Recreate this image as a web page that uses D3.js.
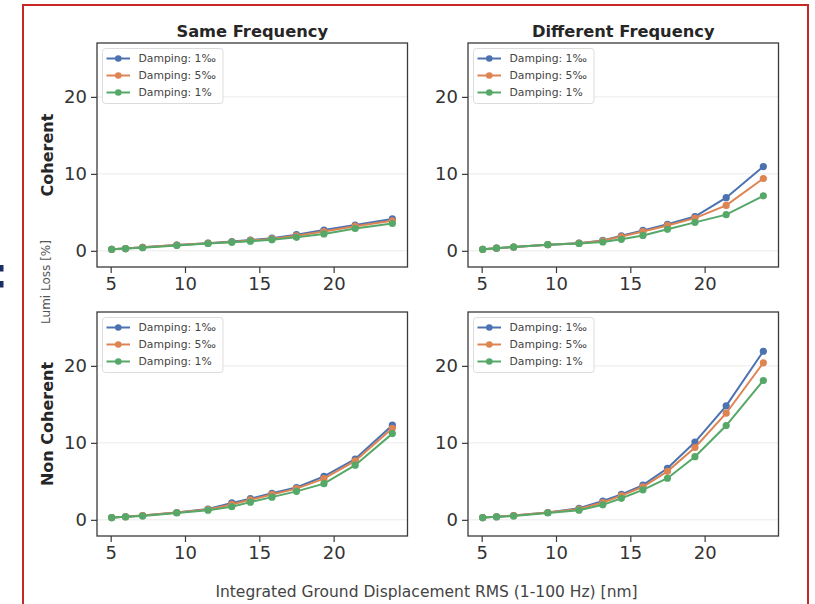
<!DOCTYPE html>
<html>
<head>
<meta charset="utf-8">
<script src="https://cdn.jsdelivr.net/npm/d3@7"></script>
<style>
  html, body { margin: 0; padding: 0; background: #fff; }
  svg { display: block; }
  text { font-family: "DejaVu Sans", sans-serif; }
</style>
</head>
<body>
<svg id="chart" width="815" height="604"></svg>
<script>
// ---------- data ----------
const xValues = [5.07, 6.0, 7.15, 9.45, 11.55, 13.15, 14.4, 15.85, 17.5, 19.35, 21.45, 23.95];

const seriesNames = ["Damping: 1‰", "Damping: 5‰", "Damping: 1%"];
const seriesColors = ["#4c72b0", "#dd8452", "#55a868"];

const colTitles = ["Same Frequency", "Different Frequency"];
const rowTitles = ["Coherent", "Non Coherent"];

const cohSame_1pm = [0.2, 0.3, 0.45, 0.75, 1.0, 1.2, 1.4, 1.65, 2.1, 2.7, 3.35, 4.15];
const cohSame_5pm = [0.2, 0.3, 0.45, 0.75, 1.0, 1.15, 1.35, 1.55, 1.95, 2.5, 3.2, 3.9];
const cohSame_1pc = [0.2, 0.3, 0.4, 0.7, 0.95, 1.1, 1.25, 1.45, 1.75, 2.2, 2.9, 3.55];

const cohDiff_1pm = [0.2, 0.35, 0.5, 0.8, 1.0, 1.35, 1.95, 2.65, 3.45, 4.45, 6.9, 10.95];
const cohDiff_5pm = [0.2, 0.35, 0.5, 0.8, 1.0, 1.3, 1.85, 2.5, 3.3, 4.25, 5.9, 9.4];
const cohDiff_1pc = [0.2, 0.35, 0.5, 0.8, 0.95, 1.15, 1.5, 2.0, 2.8, 3.7, 4.7, 7.15];

const ncSame_1pm = [0.3, 0.4, 0.55, 0.95, 1.4, 2.2, 2.75, 3.45, 4.2, 5.65, 7.9, 12.3];
const ncSame_5pm = [0.3, 0.4, 0.55, 0.95, 1.35, 2.0, 2.6, 3.3, 4.05, 5.35, 7.65, 11.9];
const ncSame_1pc = [0.3, 0.4, 0.5, 0.9, 1.25, 1.7, 2.3, 2.95, 3.7, 4.7, 7.1, 11.2];

const ncDiff_1pm = [0.3, 0.4, 0.55, 0.95, 1.5, 2.45, 3.3, 4.5, 6.7, 10.1, 14.8, 21.9];
const ncDiff_5pm = [0.3, 0.4, 0.55, 0.95, 1.4, 2.25, 3.15, 4.3, 6.3, 9.4, 13.85, 20.4];
const ncDiff_1pc = [0.3, 0.4, 0.5, 0.9, 1.25, 1.95, 2.8, 3.9, 5.4, 8.2, 12.25, 18.1];

const xTicks = [5, 10, 15, 20];
const yTicks = [0, 10, 20];
const xDomain = [4.08, 24.97];
const yDomain = [-2.1, 27];

const xLabel = "Integrated Ground Displacement RMS (1-100 Hz) [nm]";
const yLabel = "Lumi Loss [%]";

// ---------- layout ----------
const panels = [
  { row: 0, col: 0, series: [cohSame_1pm, cohSame_5pm, cohSame_1pc] },
  { row: 0, col: 1, series: [cohDiff_1pm, cohDiff_5pm, cohDiff_1pc] },
  { row: 1, col: 0, series: [ncSame_1pm, ncSame_5pm, ncSame_1pc] },
  { row: 1, col: 1, series: [ncDiff_1pm, ncDiff_5pm, ncDiff_1pc] }
];
const colLeft = [97, 468];
const panelW = 310.5;
const rowTop = [43, 312];
const panelH = 224;

const svg = d3.select("#chart");

// slide decorations
svg.append("rect").attr("x", 23).attr("y", 5).attr("width", 785).attr("height", 620)
  .attr("fill", "none").attr("stroke", "#c62828").attr("stroke-width", 2);
svg.append("rect").attr("x", 0).attr("y", 265).attr("width", 3.5).attr("height", 6.5).attr("fill", "#1b2f66");
svg.append("rect").attr("x", 0).attr("y", 281).attr("width", 3.5).attr("height", 6.5).attr("fill", "#1b2f66");

panels.forEach(p => {
  const x0 = colLeft[p.col], y0 = rowTop[p.row];
  const g = svg.append("g").attr("transform", `translate(${x0},${y0})`);
  const x = d3.scaleLinear().domain(xDomain).range([0, panelW]);
  const y = d3.scaleLinear().domain(yDomain).range([panelH, 0]);

  // grid
  g.append("g").selectAll("line").data(yTicks).join("line")
    .attr("x1", 0).attr("x2", panelW)
    .attr("y1", d => y(d)).attr("y2", d => y(d))
    .attr("stroke", "#ebebeb").attr("stroke-width", 1);

  // axes
  const xa = g.append("g").attr("transform", `translate(0,${panelH})`)
    .call(d3.axisBottom(x).tickValues(xTicks).tickSize(6).tickPadding(4).tickFormat(d3.format("d")));
  const ya = g.append("g")
    .call(d3.axisLeft(y).tickValues(yTicks).tickSize(6).tickPadding(4).tickFormat(d3.format("d")));
  [xa, ya].forEach(a => {
    a.select(".domain").remove();
    a.selectAll(".tick line").attr("stroke", "#3a3a3a").attr("stroke-width", 1.2);
    a.selectAll(".tick text").attr("fill", "#333").style("font-size", "18px")
      .style("font-family", "DejaVu Sans, sans-serif");
  });

  // series
  const line = d3.line().x((d, i) => x(xValues[i])).y(d => y(d));
  p.series.forEach((vals, si) => {
    g.append("path").datum(vals).attr("d", line)
      .attr("fill", "none").attr("stroke", seriesColors[si]).attr("stroke-width", 2);
    g.append("g").selectAll("circle").data(vals).join("circle")
      .attr("cx", (d, i) => x(xValues[i])).attr("cy", d => y(d)).attr("r", 3.6)
      .attr("fill", seriesColors[si]);
  });

  // frame
  g.append("rect").attr("x", 0).attr("y", 0).attr("width", panelW).attr("height", panelH)
    .attr("fill", "none").attr("stroke", "#3a3a3a").attr("stroke-width", 1.3);

  // legend
  const lg = g.append("g").attr("transform", "translate(5.5,5.5)");
  lg.append("rect").attr("width", 120.5).attr("height", 55).attr("rx", 3)
    .attr("fill", "#fff").attr("fill-opacity", 0.8).attr("stroke", "#dcdcdc").attr("stroke-width", 1);
  seriesNames.forEach((name, si) => {
    const ry = 10 + si * 17;
    lg.append("line").attr("x1", 4).attr("x2", 27.5).attr("y1", ry).attr("y2", ry)
      .attr("stroke", seriesColors[si]).attr("stroke-width", 2);
    lg.append("circle").attr("cx", 15.8).attr("cy", ry).attr("r", 3.3).attr("fill", seriesColors[si]);
    lg.append("text").attr("x", 36).attr("y", ry).attr("dy", "0.35em")
      .attr("fill", "#444").style("font-size", "10.8px").text(name);
  });

  // column titles
  if (p.row === 0) {
    svg.append("text").attr("x", x0 + panelW / 2).attr("y", 37)
      .attr("text-anchor", "middle").attr("fill", "#262626")
      .style("font-size", "16.3px").style("font-weight", "bold").text(colTitles[p.col]);
  }
  // row titles
  if (p.col === 0) {
    const cy = y0 + panelH / 2;
    svg.append("text").attr("transform", `translate(53,${cy}) rotate(-90)`)
      .attr("text-anchor", "middle").attr("fill", "#262626")
      .style("font-size", "16px").style("font-weight", "bold").text(rowTitles[p.row]);
  }
});

// shared labels
svg.append("text").attr("transform", "translate(50,282) rotate(-90)")
  .attr("text-anchor", "middle").attr("fill", "#555")
  .style("font-size", "12px").text(yLabel);
svg.append("text").attr("x", 426.5).attr("y", 597)
  .attr("text-anchor", "middle").attr("fill", "#444")
  .style("font-size", "15.5px").text(xLabel);
</script>
</body>
</html>
